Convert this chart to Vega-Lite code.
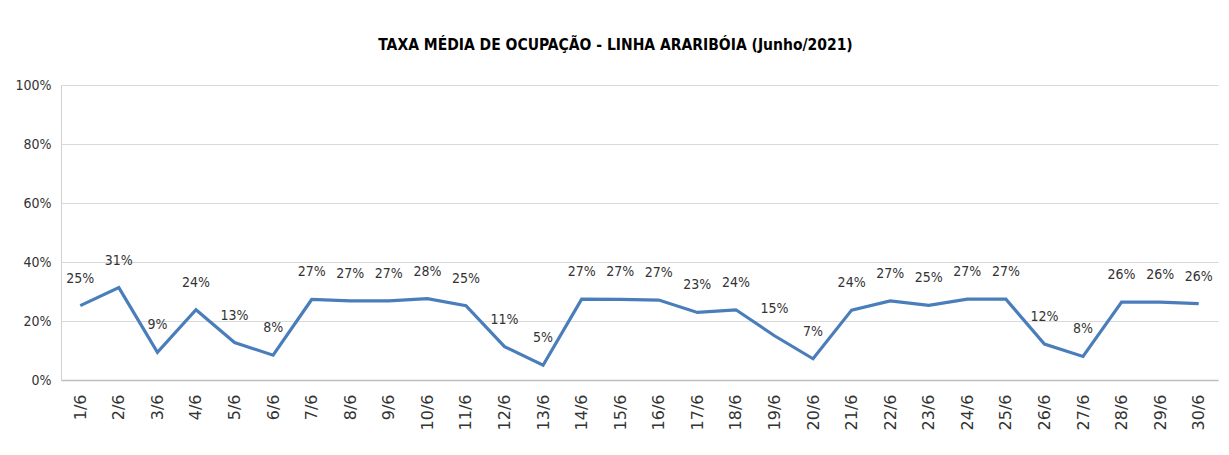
{
  "$schema": "https://vega.github.io/schema/vega-lite/v6.json",
  "autosize": {"type": "none"},
  "width": 1157,
  "height": 295,
  "padding": {"left": 61, "top": 85, "right": 11, "bottom": 75},
  "background": "white",
  "title": {
    "text": "TAXA MÉDIA DE OCUPAÇÃO - LINHA ARARIBÓIA (Junho/2021)",
    "font": "DejaVu Sans Condensed, sans-serif",
    "fontSize": 15.5,
    "fontWeight": "bold",
    "color": "#000000",
    "anchor": "middle",
    "dx": -24,
    "offset": 25
  },
  "data": {
    "values": [
      {"dia": "1/6", "taxa": 0.252},
      {"dia": "2/6", "taxa": 0.313},
      {"dia": "3/6", "taxa": 0.094},
      {"dia": "4/6", "taxa": 0.238},
      {"dia": "5/6", "taxa": 0.127},
      {"dia": "6/6", "taxa": 0.084},
      {"dia": "7/6", "taxa": 0.273},
      {"dia": "8/6", "taxa": 0.268},
      {"dia": "9/6", "taxa": 0.268},
      {"dia": "10/6", "taxa": 0.276},
      {"dia": "11/6", "taxa": 0.252},
      {"dia": "12/6", "taxa": 0.113},
      {"dia": "13/6", "taxa": 0.05},
      {"dia": "14/6", "taxa": 0.274},
      {"dia": "15/6", "taxa": 0.273},
      {"dia": "16/6", "taxa": 0.271},
      {"dia": "17/6", "taxa": 0.229},
      {"dia": "18/6", "taxa": 0.238},
      {"dia": "19/6", "taxa": 0.15},
      {"dia": "20/6", "taxa": 0.072},
      {"dia": "21/6", "taxa": 0.237},
      {"dia": "22/6", "taxa": 0.268},
      {"dia": "23/6", "taxa": 0.253},
      {"dia": "24/6", "taxa": 0.274},
      {"dia": "25/6", "taxa": 0.274},
      {"dia": "26/6", "taxa": 0.122},
      {"dia": "27/6", "taxa": 0.08},
      {"dia": "28/6", "taxa": 0.264},
      {"dia": "29/6", "taxa": 0.264},
      {"dia": "30/6", "taxa": 0.259}
    ]
  },
  "encoding": {
    "x": {
      "field": "dia",
      "type": "nominal",
      "sort": null,
      "scale": {"type": "point", "padding": 0.5},
      "axis": {
        "title": null,
        "labelAngle": -90,
        "labelFont": "DejaVu Sans, sans-serif",
        "labelFontSize": 16,
        "labelFontWeight": "normal",
        "labelColor": "#333333",
        "labelPadding": 14,
        "ticks": false,
        "domainColor": "#bfbfbf",
        "domainWidth": 1.5,
        "grid": false
      }
    },
    "y": {
      "field": "taxa",
      "type": "quantitative",
      "scale": {"domain": [0, 1], "nice": false},
      "axis": {
        "title": null,
        "values": [0, 0.2, 0.4, 0.6, 0.8, 1],
        "format": ".0%",
        "labelFont": "DejaVu Sans Condensed, sans-serif",
        "labelFontSize": 14,
        "labelColor": "#333333",
        "labelPadding": 10,
        "ticks": false,
        "domainColor": "#d0d0d0",
        "grid": true,
        "gridColor": "#d9d9d9",
        "gridWidth": 1
      }
    }
  },
  "layer": [
    {
      "mark": {"type": "line", "color": "#4a7ebb", "strokeWidth": 3.2, "strokeJoin": "miter"}
    },
    {
      "mark": {
        "type": "text",
        "dy": -27,
        "baseline": "middle",
        "align": "center",
        "font": "DejaVu Sans Condensed, sans-serif",
        "fontSize": 14,
        "color": "#333333"
      },
      "encoding": {
        "text": {"field": "taxa", "type": "quantitative", "format": ".0%"}
      }
    }
  ],
  "config": {
    "view": {"stroke": null}
  }
}
